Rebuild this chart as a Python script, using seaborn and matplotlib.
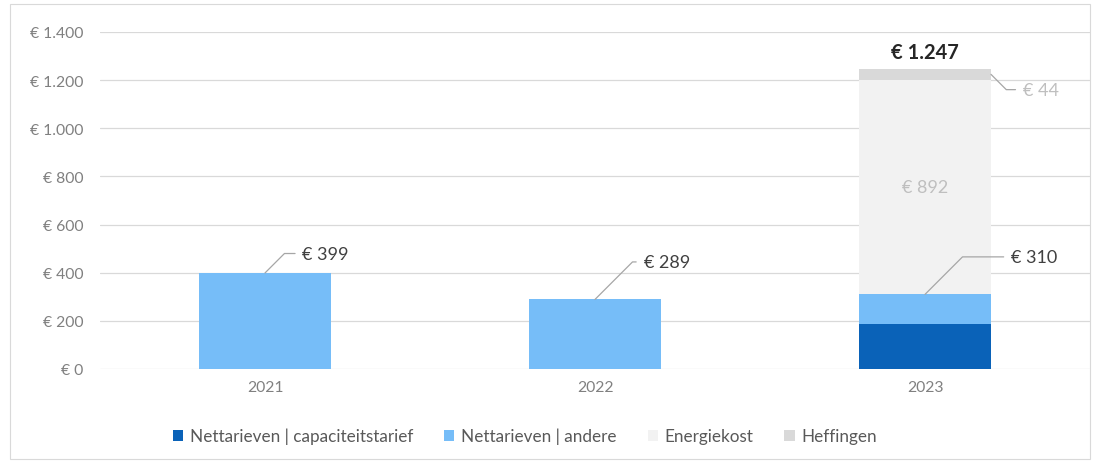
import matplotlib
matplotlib.use("Agg")
import matplotlib.pyplot as plt
import seaborn as sns
import numpy as np
import pandas as pd
from matplotlib.patches import Patch, Rectangle
from matplotlib.ticker import FuncFormatter

years = ["2021", "2022", "2023"]
capaciteit = [0, 0, 187]
andere = [399, 289, 123]
energiekost = [0, 0, 892]
heffingen = [0, 0, 44]
series_names = ["Nettarieven | capaciteitstarief", "Nettarieven | andere", "Energiekost", "Heffingen"]
total_label = "€ 1.247"
yticks = [0, 200, 400, 600, 800, 1000, 1200, 1400]

colors = ["#0A62B8", "#76BDF8", "#F2F2F2", "#D9D9D9"]

sns.set_theme(style="white")
plt.rcParams['font.family'] = ['Lato', 'DejaVu Sans']

fig = plt.figure(figsize=(10.95, 4.64), dpi=100)
ax = fig.add_axes([100/1095, 1-370/464, 990/1095, (370-33)/464])

def fmt(v):
    s = f"{int(round(v)):,}".replace(",", ".")
    return f"€ {s}"

series = [capaciteit, andere, energiekost, heffingen]
bottom = np.zeros(len(years))
for name, vals, c in zip(series_names, series, colors):
    df = pd.DataFrame({"year": years, "val": vals})
    sns.barplot(data=df, x="year", y="val", order=years, color=c, width=0.4,
                bottom=bottom, ax=ax, linewidth=0, saturation=1)
    bottom = bottom + np.array(vals)

ax.set_ylim(0, 1400)
ax.set_xlim(-0.5, 2.5)
ax.set_yticks(yticks)
ax.yaxis.set_major_formatter(FuncFormatter(lambda v, p: fmt(v)))
ax.grid(axis="y", color="#D9D9D9", lw=0.9)
ax.set_axisbelow(True)
for s in ax.spines.values():
    s.set_visible(False)
ax.set_xlabel("")
ax.set_ylabel("")
ax.tick_params(axis="y", length=0, pad=12, labelsize=11.3, labelcolor="#808080")
ax.tick_params(axis="x", length=0, pad=8, labelsize=11.3, labelcolor="#808080")

lc = "#A6A6A6"
tc = "#404040"
# net tariff totals
net = [c + a for c, a in zip(capaciteit, andere)]
offsets = [(27, 14), (35, 27), (62, 27)]
for i, (v, off) in enumerate(zip(net, offsets)):
    ax.annotate(fmt(v), xy=(i, v), xytext=off, textcoords="offset points",
                ha="left", va="center", fontsize=13, color=tc,
                arrowprops=dict(arrowstyle="-", color=lc, lw=0.9,
                                connectionstyle="angle,angleA=0,angleB=45,rad=0",
                                relpos=(0, 0.5), shrinkA=3, shrinkB=0))

# energiekost label
base = capaciteit[2] + andere[2]
ax.text(2, base + energiekost[2] / 2, fmt(energiekost[2]), ha="center", va="center",
        fontsize=13, color="#BFBFBF")
# heffingen label
top = base + energiekost[2] + heffingen[2]
ax.annotate(fmt(heffingen[2]), xy=(2.2, top - heffingen[2] / 2), xytext=(23, -11),
            textcoords="offset points", ha="left", va="center", fontsize=13, color="#BFBFBF",
            arrowprops=dict(arrowstyle="-", color=lc, lw=0.9,
                            connectionstyle="angle,angleA=0,angleB=-45,rad=0",
                            relpos=(0, 0.5), shrinkA=3, shrinkB=0))
# total
ax.annotate(total_label, xy=(2, top), xytext=(0, 5), textcoords="offset points",
            ha="center", va="bottom", fontsize=14.5, fontweight="bold", color="#262626")

handles = [Patch(facecolor=c, edgecolor="none", label=n) for n, c in zip(series_names, colors)]
leg = fig.legend(handles=handles, loc="center", bbox_to_anchor=(525/1095, 1-437/464), ncol=4,
                 frameon=False, fontsize=12.3, handlelength=0.6, handleheight=0.6,
                 handletextpad=0.4, columnspacing=1.8)
for t in leg.get_texts():
    t.set_color("#595959")

fig.patches.append(Rectangle((10/1095, 4/464), 1080/1095, 455/464, transform=fig.transFigure,
                             fill=False, edgecolor="#D9D9D9", lw=0.8))

fig.savefig("out.png", dpi=100)
